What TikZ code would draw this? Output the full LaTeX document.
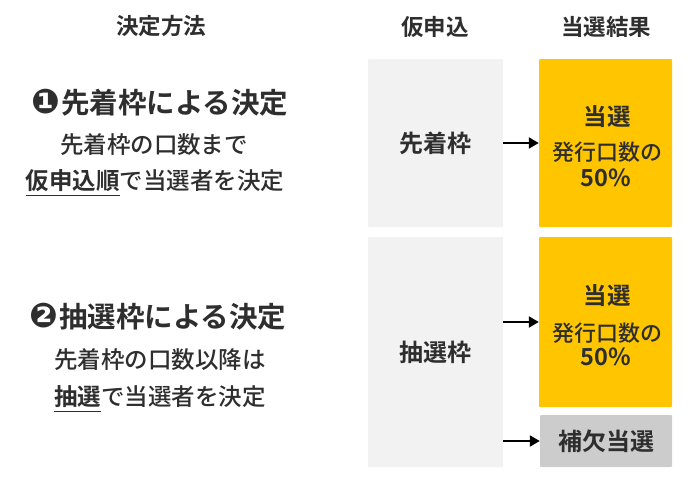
\documentclass[tikz,border=0pt]{standalone}
\usepackage{fontspec}
\setmainfont{Noto Sans CJK JP}[UprightFont={* Medium}, BoldFont={* Bold}]
\newfontfamily\symfont{DejaVu Sans}
\usepackage{tikz}
\usetikzlibrary{arrows.meta,positioning}
\definecolor{ink}{HTML}{2E2E2E}
\definecolor{wakugray}{HTML}{F2F2F2}
\definecolor{tousenyellow}{HTML}{FFC600}
\definecolor{hoketsugray}{HTML}{CCCCCC}
\newcommand{\ulbold}[1]{\setbox0\hbox{\bfseries #1}\rlap{\color{ink}\rule[-6.8pt]{\wd0}{1.8pt}}\box0}
\newcommand{\maru}[1]{{\symfont\fontsize{34}{30}\selectfont #1}\hspace{1pt}}
\tikzset{
  head/.style={inner sep=0pt, text=ink, font=\fontsize{22.5}{26}\selectfont\bfseries},
  method/.style={inner sep=0pt, text=ink, font=\fontsize{28.5}{32}\selectfont\bfseries},
  note/.style={inner sep=0pt, text=ink, font=\fontsize{23.5}{27}\selectfont},
  wakubox/.style={fill=wakugray, rounded corners=1pt, minimum width=135pt, text=ink, font=\fontsize{24}{27}\selectfont\bfseries},
  resultbox/.style={fill=tousenyellow, rounded corners=1pt, minimum width=133pt},
  hoketsubox/.style={fill=hoketsugray, rounded corners=1pt, minimum width=132pt, minimum height=52pt, text=ink, font=\fontsize{24}{27}\selectfont\bfseries},
  restext/.style={inner sep=0pt, text=ink, font=\fontsize{23.5}{27}\selectfont\bfseries},
  resnote/.style={inner sep=0pt, text=ink, font=\fontsize{22}{25}\selectfont},
  flow/.style={-{Triangle[length=10pt,width=11pt]}, line width=2pt, black},
}

\begin{document}
\begin{tikzpicture}[x=1pt,y=-1pt]
  \useasboundingbox (0,0) rectangle (697,482);
  % column heads
  \node[head] (hmethod) at (161,26) {決定方法};
  \node[head] (hkari) at (435,27) {仮申込};
  \node[head] (hkekka) at (606,27) {当選結果};
  % left column
  \node[method] (m1) at (160,103) {\maru{❶}先着枠による決定};
  \node[note] (m1a) at (154,145) {先着枠の口数まで};
  \node[note] (m1b) at (155,183) {\ulbold{仮申込順}で当選者を決定};
  \node[method] (m2) at (158,317) {\maru{❷}抽選枠による決定};
  \node[note] (m2a) at (160,360) {先着枠の口数以降は};
  \node[note] (m2b) at (160,399) {\ulbold{抽選}で当選者を決定};
  % boxes
  \node[wakubox, minimum height=168pt] (kari1) at (435.5,143) {先着枠};
  \node[wakubox, minimum height=230pt] (kari2) at (435.5,352) {抽選枠};
  \node[resultbox, minimum height=168pt] (res1) at (605.5,143) {};
  \node[resultbox, minimum height=170pt] (res2) at (605.5,322) {};
  \node[hoketsubox] (hoketsu) at (606,441) {補欠当選};
  \node[restext] (res1a) at (607,117) {当選};
  \node[resnote] (res1b) at (607,152) {発行口数の};
  \node[restext] (res1c) at (606,178) {50\%};
  \node[restext] (res2a) at (607,296) {当選};
  \node[resnote] (res2b) at (607,333) {発行口数の};
  \node[restext] (res2c) at (606,357) {50\%};
  % arrows
  \draw[flow] (kari1.east) -- (res1.west);
  \draw[flow] (kari2.east |- res2.west) -- (res2.west);
  \draw[flow] (kari2.east |- hoketsu.west) -- (hoketsu.west);
\end{tikzpicture}
\end{document}
